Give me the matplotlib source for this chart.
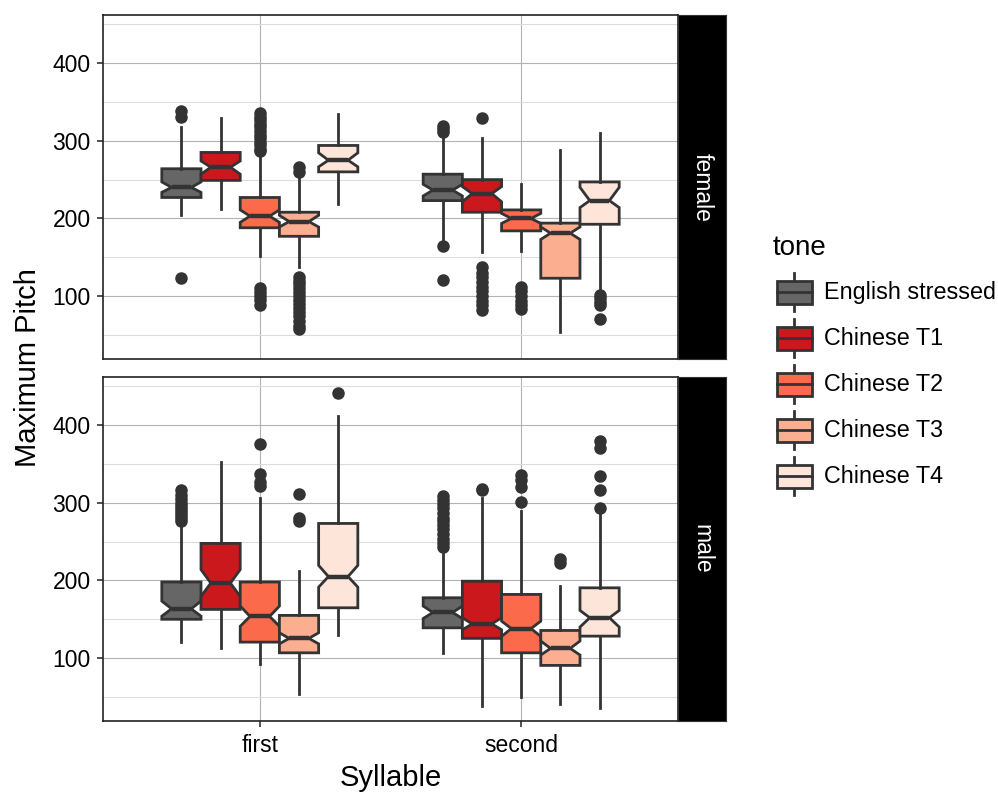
import matplotlib
matplotlib.use("Agg")
import matplotlib.pyplot as plt
from matplotlib.patches import Rectangle

plt.rcParams['font.family'] = ['Liberation Sans', 'DejaVu Sans']

tones = ['English stressed', 'Chinese T1', 'Chinese T2', 'Chinese T3', 'Chinese T4']
tone_colors = ['#666666', '#CB181D', '#FB6A4A', '#FCAE91', '#FEE5D9']
syllables = ['first', 'second']
genders = ['female', 'male']

# box stats, order: first syllable (5 tones) then second syllable (5 tones)
female_lo = [204, 212, 152, 138, 219, 170, 157, 158, 54, 109]
female_q1 = [227, 249, 188, 177, 260, 223, 208, 184, 123, 192.5]
female_med = [240, 266, 203, 196, 275, 236.5, 232, 200, 181, 223]
female_q3 = [264, 285, 227, 208, 294, 257, 250, 211, 194, 247]
female_hi = [318, 330, 279, 254, 335, 304, 303, 245, 288, 309.5]
female_cilo = [233.6, 257, 195, 189, 266.5, 229, 221.5, 193.6, 173, 214]
female_cihi = [247, 274, 211, 204, 284.5, 244, 241, 206.5, 189, 240]
female_fliers = [
    [339, 331, 123],
    [],
    [336, 331, 327, 322, 318, 313, 308, 303, 298, 294, 290, 287, 111, 105, 100, 95, 88],
    [266, 260, 125, 120, 115, 110, 105, 100, 95, 90, 85, 80, 75, 68, 62, 58],
    [],
    [319, 315, 311, 164, 121],
    [329, 137, 130, 124, 118, 112, 106, 100, 94, 88, 82],
    [112, 106, 100, 94, 88, 84],
    [],
    [101, 97, 93, 89, 71],
]

male_lo = [121, 112.5, 92, 54, 129.6, 106.8, 38, 50, 41, 36]
male_q1 = [150, 162.7, 120.6, 106.8, 164.8, 139, 125.4, 106.8, 90.6, 128.3]
male_med = [163.5, 196.6, 153.7, 125.4, 205, 158.8, 144, 138, 112.5, 152]
male_q3 = [198, 247.7, 198, 155, 273.4, 177.7, 199, 182, 135.6, 190.5]
male_hi = [270, 352.8, 305.6, 212, 411.6, 233.5, 306, 289, 192.7, 285]
male_cilo = [154, 179.5, 141, 118.4, 191.4, 151, 136.5, 128, 104, 140]
male_cihi = [173.4, 214, 167, 132.6, 219.4, 167, 152, 147.6, 122, 161.4]
male_fliers = [
    [316, 310, 305, 300, 296, 292, 288, 284, 280, 277],
    [],
    [376, 337, 327, 322],
    [311, 281, 277],
    [441.6],
    [309, 303, 298, 293, 287, 281, 276, 271, 266, 260, 254, 248, 243],
    [318, 316],
    [336, 329, 320, 301],
    [227, 222],
    [379, 370, 335, 316, 293.5],
]

panels = {
    'female': (female_lo, female_q1, female_med, female_q3, female_hi, female_cilo, female_cihi, female_fliers),
    'male': (male_lo, male_q1, male_med, male_q3, male_hi, male_cilo, male_cihi, male_fliers),
}

W, H = 998, 796
fig = plt.figure(figsize=(W / 100, H / 100), dpi=100)

line_c = '#333333'
box_w = 0.15
panel_px = [(15, 359), (377, 721)]

for (top, bot), g in zip(panel_px, genders):
    ax = fig.add_axes([103 / W, (H - bot) / H, 575 / W, (bot - top) / H])
    lo, q1, med, q3, hi, cilo, cihi, fl = panels[g]
    stats, pos, cols = [], [], []
    for s in range(2):
        for t in range(5):
            k = s * 5 + t
            stats.append(dict(whislo=lo[k], q1=q1[k], med=med[k], q3=q3[k], whishi=hi[k],
                              cilo=cilo[k], cihi=cihi[k], fliers=fl[k]))
            pos.append(s + 1 + (t - 2) * box_w)
            cols.append(tone_colors[t])
    bp = ax.bxp(stats, positions=pos, widths=box_w, patch_artist=True, shownotches=True,
                showcaps=False, manage_ticks=False,
                boxprops=dict(edgecolor=line_c, linewidth=2),
                whiskerprops=dict(color=line_c, linewidth=2),
                medianprops=dict(color=line_c, linewidth=3.2, solid_capstyle='butt'),
                flierprops=dict(marker='o', markerfacecolor=line_c, markeredgecolor=line_c,
                                markersize=8, linestyle='none'))
    for patch, c in zip(bp['boxes'], cols):
        patch.set_facecolor(c)
        patch.set_joinstyle('miter')

    ax.set_xlim(0.4, 2.6)
    ax.set_ylim(19, 462)
    ax.set_yticks([100, 200, 300, 400])
    ax.set_yticks([50, 150, 250, 350, 450], minor=True)
    ax.set_xticks([1, 2])
    ax.set_axisbelow(True)
    ax.grid(True, which='major', color='#b3b3b3', linewidth=0.8)
    ax.grid(True, which='minor', axis='y', color='#dcdcdc', linewidth=0.8)
    ax.tick_params(which='minor', length=0)
    ax.tick_params(which='major', length=4.5, width=1.2, color=line_c, labelsize=16.5,
                   labelcolor='black', pad=4.5)
    if g == 'female':
        ax.set_xticklabels([])
        ax.tick_params(axis='x', length=0)
    else:
        ax.set_xticklabels(syllables)
    for sp in ax.spines.values():
        sp.set_color('#222222')
        sp.set_linewidth(1.2)

    sax = fig.add_axes([678 / W, (H - bot) / H, 48 / W, (bot - top) / H])
    sax.set_facecolor('black')
    sax.set_xticks([])
    sax.set_yticks([])
    for sp in sax.spines.values():
        sp.set_color('#333333')
    sax.text(0.5, 0.5, g, color='white', rotation=-90, fontsize=16.5,
             ha='center', va='center', transform=sax.transAxes)

fig.text(28 / W, 1 - 368 / H, 'Maximum Pitch', rotation=90, fontsize=21,
         ha='center', va='center')
fig.text(390.5 / W, 1 - 778 / H, 'Syllable', fontsize=21, ha='center', va='center')

# legend
lax = fig.add_axes([0, 0, 1, 1])
lax.set_xlim(0, W)
lax.set_ylim(H, 0)
lax.axis('off')
lax.text(773, 248, 'tone', fontsize=20, ha='left', va='center')
for i, (name, c) in enumerate(zip(tones, tone_colors)):
    yc = 292.3 + 46 * i
    lax.plot([794.5, 794.5], [yc - 19, yc + 19], color=line_c, lw=2, zorder=1)
    lax.add_patch(Rectangle((777, yc - 11.5), 35, 23, facecolor=c, edgecolor=line_c,
                            lw=2, zorder=2))
    lax.plot([777, 812], [yc, yc], color=line_c, lw=2, zorder=3)
    lax.text(824.5, yc, name, fontsize=16.8, ha='left', va='center')

fig.savefig('out.png', dpi=100)
